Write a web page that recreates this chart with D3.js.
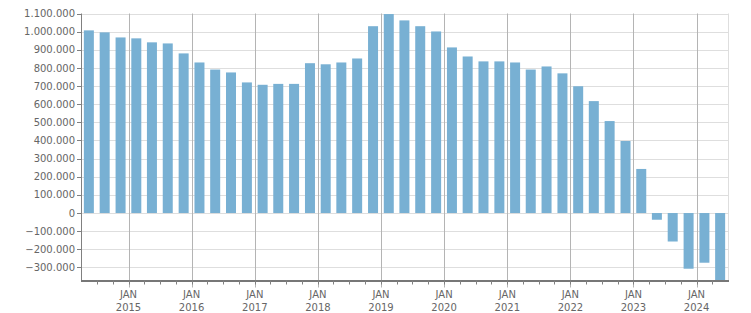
<!DOCTYPE html>
<html>
<head>
<meta charset="utf-8">
<script src="https://cdn.jsdelivr.net/npm/d3@7"></script>
<style>
  body { margin: 0; background: #fff; }
  text { font-family: Tahoma, "DejaVu Sans", sans-serif; font-size: 10px; fill: #666; }
</style>
</head>
<body>
<div id="chart"></div>
<script>
// quarter start dates (one bar per quarter)
const quarters = [
    "2014-04-01", "2014-07-01", "2014-10-01",
    "2015-01-01", "2015-04-01", "2015-07-01", "2015-10-01",
    "2016-01-01", "2016-04-01", "2016-07-01", "2016-10-01",
    "2017-01-01", "2017-04-01", "2017-07-01", "2017-10-01",
    "2018-01-01", "2018-04-01", "2018-07-01", "2018-10-01",
    "2019-01-01", "2019-04-01", "2019-07-01", "2019-10-01",
    "2020-01-01", "2020-04-01", "2020-07-01", "2020-10-01",
    "2021-01-01", "2021-04-01", "2021-07-01", "2021-10-01",
    "2022-01-01", "2022-04-01", "2022-07-01", "2022-10-01",
    "2023-01-01", "2023-04-01", "2023-07-01", "2023-10-01",
    "2024-01-01", "2024-04-01"
];

const values = [
    1007000, 996000, 968000,
    963000, 941000, 935000, 880000,
    830000, 791000, 775000, 720000,
    707000, 712000, 712000, 826000,
    820000, 830000, 852000, 1030000,
    1097000, 1062000, 1030000, 1001000,
    913000, 863000, 836000, 836000,
    830000, 791000, 808000, 770000,
    699000, 617000, 507000, 397000,
    243000, -37000, -157000, -307000,
    -274000, -372000
];

const yTicks = [-300000, -200000, -100000, 0, 100000, 200000, 300000, 400000,
    500000, 600000, 700000, 800000, 900000, 1000000, 1100000];

const years = [2015, 2016, 2017, 2018, 2019, 2020, 2021, 2022, 2023, 2024];

const width = 751, height = 313;
const plotLeft = 81, plotRight = 728, plotTop = 13.5, plotBottom = 280.5;

const parse = d3.timeParse("%Y-%m-%d");
const data = quarters.map((q, i) => ({ start: parse(q), value: values[i] }));

const x = d3.scaleTime()
    .domain([parse("2014-04-01"), parse("2024-07-01")])
    .range([plotLeft, plotRight]);

const y = d3.scaleLinear()
    .domain([-372000, 1100000])
    .range([plotBottom, plotTop]);

const fmt = v => d3.format(",")(v).replace(/,/g, ".");

const svg = d3.select("#chart")
    .append("svg")
    .attr("width", width)
    .attr("height", height);

// horizontal grid
svg.append("g")
    .selectAll("line")
    .data(yTicks)
    .enter()
    .append("line")
    .attr("x1", plotLeft)
    .attr("x2", plotRight)
    .attr("y1", d => Math.round(y(d)) + 0.5)
    .attr("y2", d => Math.round(y(d)) + 0.5)
    .attr("stroke", "#dedede");

// right border
svg.append("line")
    .attr("x1", plotRight + 0.5).attr("x2", plotRight + 0.5)
    .attr("y1", plotTop).attr("y2", plotBottom)
    .attr("stroke", "#dedede");

// january grid lines
const janDates = years.map(yr => new Date(yr, 0, 1));
svg.append("g")
    .selectAll("line")
    .data(janDates)
    .enter()
    .append("line")
    .attr("x1", d => Math.round(x(d)) + 0.5)
    .attr("x2", d => Math.round(x(d)) + 0.5)
    .attr("y1", plotTop)
    .attr("y2", plotBottom + 7)
    .attr("stroke", "#b4b4b4");

// bars, centred on the middle of each quarter
const barW = 10;
svg.append("g")
    .selectAll("rect")
    .data(data)
    .enter()
    .append("rect")
    .attr("x", d => {
        const end = d3.timeMonth.offset(d.start, 3);
        return (x(d.start) + x(end)) / 2 - barW / 2;
    })
    .attr("width", barW)
    .attr("y", d => y(Math.max(0, d.value)))
    .attr("height", d => Math.abs(y(d.value) - y(0)))
    .attr("fill", "#78b0d3");

// y axis
const yAxis = svg.append("g");
yAxis.append("line")
    .attr("x1", plotLeft + 0.5).attr("x2", plotLeft + 0.5)
    .attr("y1", plotTop).attr("y2", plotBottom)
    .attr("stroke", "#808080");
yAxis.selectAll("line.tick")
    .data(yTicks)
    .enter()
    .append("line")
    .attr("class", "tick")
    .attr("x1", plotLeft - 4)
    .attr("x2", plotLeft)
    .attr("y1", d => Math.round(y(d)) + 0.5)
    .attr("y2", d => Math.round(y(d)) + 0.5)
    .attr("stroke", "#808080");
yAxis.selectAll("text")
    .data(yTicks)
    .enter()
    .append("text")
    .attr("x", plotLeft - 6)
    .attr("y", d => y(d))
    .attr("dy", "0.36em")
    .attr("text-anchor", "end")
    .text(d => fmt(d));

// x axis
const xAxis = svg.append("g");
xAxis.append("line")
    .attr("x1", plotLeft).attr("x2", plotRight + 1)
    .attr("y1", plotBottom + 0.5).attr("y2", plotBottom + 0.5)
    .attr("stroke", "#777")
    .attr("stroke-width", 2);
const quarterTicks = d3.timeMonth.every(3).range(parse("2014-07-01"), parse("2024-07-01"));
xAxis.selectAll("line.tick")
    .data(quarterTicks)
    .enter()
    .append("line")
    .attr("class", "tick")
    .attr("x1", d => Math.round(x(d)) + 0.5)
    .attr("x2", d => Math.round(x(d)) + 0.5)
    .attr("y1", plotBottom)
    .attr("y2", plotBottom + 4)
    .attr("stroke", "#808080");
xAxis.selectAll("text.mon")
    .data(janDates)
    .enter()
    .append("text")
    .attr("class", "mon")
    .attr("x", d => x(d))
    .attr("y", 297.5)
    .attr("text-anchor", "middle")
    .text("JAN");
xAxis.selectAll("text.yr")
    .data(janDates)
    .enter()
    .append("text")
    .attr("class", "yr")
    .attr("x", d => x(d))
    .attr("y", 310.5)
    .attr("text-anchor", "middle")
    .text(d => d.getFullYear());
</script>
</body>
</html>
